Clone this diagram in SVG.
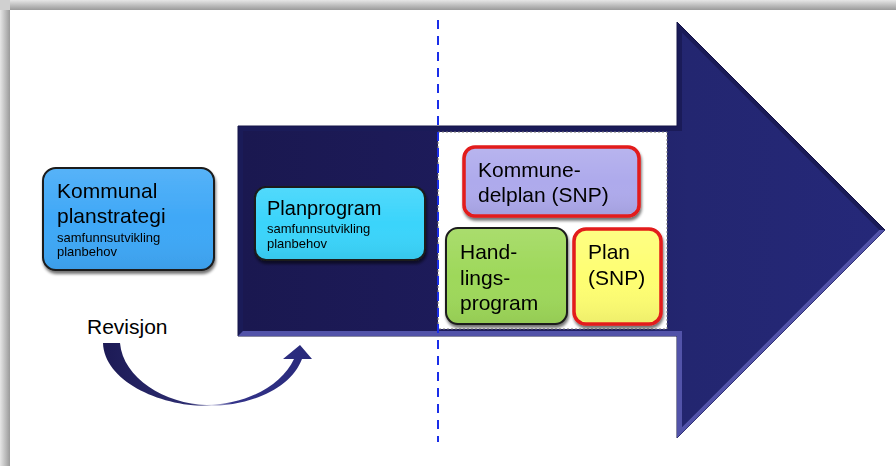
<svg xmlns="http://www.w3.org/2000/svg" width="896" height="466" viewBox="0 0 896 466">
<defs>
<linearGradient id="topBar" x1="0" y1="0" x2="0" y2="1"><stop offset="0" stop-color="#e6e6e6"/><stop offset="1" stop-color="#9a9a9a"/></linearGradient>
<linearGradient id="leftBar" x1="0" y1="0" x2="1" y2="0"><stop offset="0" stop-color="#e6e6e6"/><stop offset="1" stop-color="#9a9a9a"/></linearGradient>
<linearGradient id="arrowFill" x1="0" y1="0" x2="1" y2="0"><stop offset="0" stop-color="#1a1850"/><stop offset="0.45" stop-color="#1e1c5e"/><stop offset="0.7" stop-color="#232670"/><stop offset="1" stop-color="#252879"/></linearGradient>
<linearGradient id="curveFill" x1="0" y1="0" x2="1" y2="0"><stop offset="0" stop-color="#1c1a55"/><stop offset="0.42" stop-color="#2e2e72"/><stop offset="0.52" stop-color="#d8d8ea"/><stop offset="0.62" stop-color="#34348a"/><stop offset="1" stop-color="#28297a"/></linearGradient>
<filter id="shadow" x="-10%" y="-10%" width="125%" height="130%"><feGaussianBlur in="SourceAlpha" stdDeviation="1.6"/><feOffset dx="1" dy="2.5" result="b"/><feComponentTransfer><feFuncA type="linear" slope="0.55"/></feComponentTransfer><feMerge><feMergeNode/><feMergeNode in="SourceGraphic"/></feMerge></filter>
<linearGradient id="gloss" x1="0" y1="0" x2="0" y2="1"><stop offset="0" stop-color="#fff" stop-opacity="0.12"/><stop offset="0.5" stop-color="#fff" stop-opacity="0"/><stop offset="1" stop-color="#000" stop-opacity="0.06"/></linearGradient>
</defs>
<style>
.t{font-family:"Liberation Sans",Arial,sans-serif;fill:#000;}
.big{font-size:21px;}
.pp{font-size:20px;}
.small{font-size:13px;}
.box{stroke:#1a1a1a;stroke-width:2;}
.red{stroke:#e21a1a;stroke-width:3.5;}
</style>
<rect width="896" height="466" fill="#ffffff"/>
<rect x="0" y="0" width="896" height="10" fill="url(#topBar)"/>
<rect x="0" y="0" width="10" height="466" fill="url(#leftBar)"/>
<rect x="0" y="0" width="10" height="10" fill="#d0d0d0"/>

<g id="big-arrow">
<path d="M238,126 L677,126 L677,22 L885,230 L677,438 L677,336 L238,336 Z" fill="#24266f" stroke="#141446" stroke-width="1"/>
<path d="M238,126 L677,126 L677,22 L885,230 L879,230 L682,33 L682,131 L243,131 L243,331 L238,336 Z" fill="#14144a" opacity="0.6"/>
<path d="M238,336 L243,331 L682,331 L682,427 L879,230 L885,230 L677,438 L677,336 Z" fill="#5a5cb4" opacity="0.85"/>
<path d="M243,131 L682,131 L682,33 L879,230 L682,427 L682,331 L243,331 Z" fill="url(#arrowFill)"/>
</g>

<rect id="dashed-area" x="438" y="132" width="229" height="197" fill="#ffffff" stroke="#777" stroke-width="1" stroke-dasharray="2,2"/>

<g id="connectors">
<line x1="438" y1="20" x2="438" y2="442" stroke="#1a2ee8" stroke-width="2" stroke-dasharray="9,7"/>
<path d="M103,343 L120,343 C123,378 165,404 207,405 C248,404 282,385 294,359 L283,359 L300,345 L312,359 L302,359 C291,388 252,406 207,406 C158,406 104,380 103,343 Z" fill="url(#curveFill)"/>
</g>

<g id="kommunal-planstrategi" filter="url(#shadow)">
<rect x="43" y="168" width="171" height="102" rx="13" fill="#3fa8f7" class="box"/>
<rect x="44" y="169" width="169" height="100" rx="12" fill="url(#gloss)"/>
<text class="t big" x="57" y="198">Kommunal</text>
<text class="t big" x="57" y="223">planstrategi</text>
<text class="t small" x="57" y="242">samfunnsutvikling</text>
<text class="t small" x="57" y="256">planbehov</text>
</g>

<g id="planprogram" filter="url(#shadow)">
<rect x="255" y="187" width="170" height="73" rx="11" fill="#3ad4fb" class="box"/>
<rect x="256" y="188" width="168" height="71" rx="10" fill="url(#gloss)"/>
<text class="t pp" x="267" y="215">Planprogram</text>
<text class="t small" x="267" y="233">samfunnsutvikling</text>
<text class="t small" x="267" y="248">planbehov</text>
</g>

<g id="kommunedelplan" filter="url(#shadow)">
<rect x="464" y="147" width="175" height="69" rx="11" fill="#aeaaec" class="red"/>
<rect x="466" y="149" width="171" height="65" rx="9" fill="url(#gloss)"/>
<text class="t big" x="478" y="177">Kommune-</text>
<text class="t big" x="478" y="202">delplan (SNP)</text>
</g>

<g id="handlingsprogram" filter="url(#shadow)">
<rect x="446" y="228" width="121" height="96" rx="12" fill="#9ed85a" class="box"/>
<rect x="447" y="229" width="119" height="94" rx="11" fill="url(#gloss)"/>
<text class="t big" x="460" y="259">Hand-</text>
<text class="t big" x="460" y="285">lings-</text>
<text class="t big" x="460" y="310">program</text>
</g>

<g id="plan-snp" filter="url(#shadow)">
<rect x="574" y="229" width="87" height="95" rx="12" fill="#fefe72" class="red"/>
<rect x="576" y="231" width="83" height="91" rx="10" fill="url(#gloss)"/>
<text class="t big" x="588" y="259">Plan</text>
<text class="t big" x="588" y="285">(SNP)</text>
</g>

<text id="revisjon" class="t big" x="87" y="334">Revisjon</text>
</svg>
